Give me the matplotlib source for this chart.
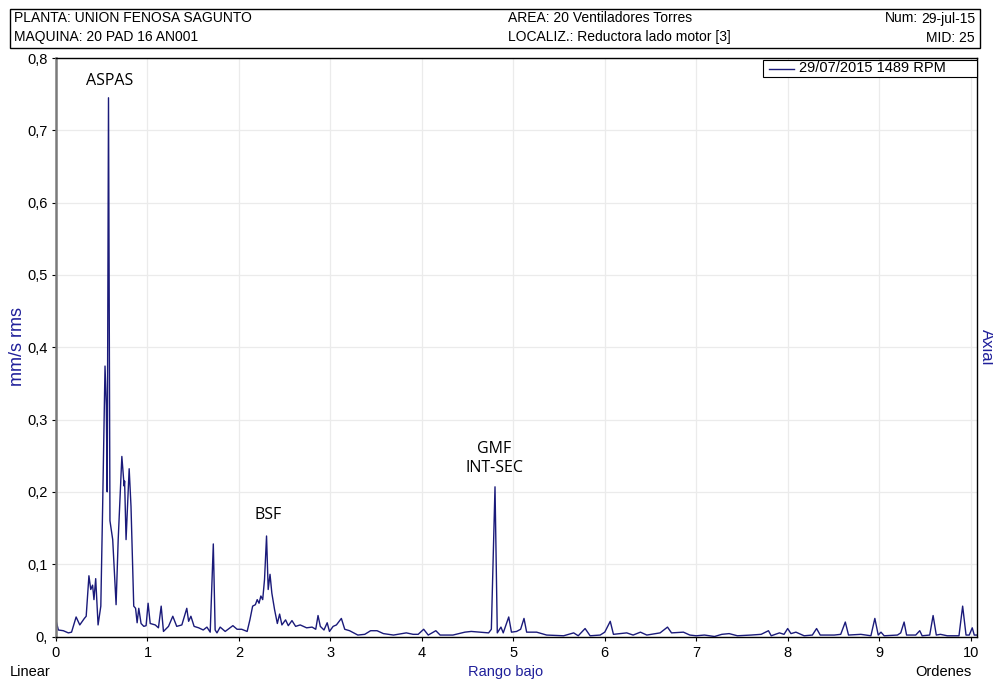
import matplotlib
matplotlib.use("Agg")
import matplotlib.pyplot as plt
from matplotlib.patches import Rectangle
from matplotlib.lines import Line2D
from matplotlib.ticker import FuncFormatter

plt.rcParams['font.family'] = ['Liberation Sans', 'DejaVu Sans']

# espectro (ordenes, mm/s rms)
ordenes = [0.0, 0.026, 0.08, 0.135, 0.17, 0.22, 0.26, 0.31, 0.33, 0.36, 0.38, 0.40, 0.415, 0.434,
           0.46, 0.49, 0.51, 0.536, 0.55, 0.56, 0.574, 0.59, 0.62, 0.657, 0.68, 0.72, 0.745, 0.75,
           0.766, 0.80, 0.82, 0.85, 0.87, 0.887, 0.905, 0.93, 0.96, 0.985, 1.007, 1.03, 1.085,
           1.12, 1.15, 1.175, 1.23, 1.277, 1.32, 1.376, 1.43, 1.45, 1.475, 1.51, 1.56, 1.61, 1.65,
           1.686, 1.72, 1.74, 1.76, 1.795, 1.85, 1.934, 1.98, 2.03, 2.09, 2.12, 2.15, 2.18, 2.2,
           2.22, 2.24, 2.26, 2.28, 2.302, 2.32, 2.34, 2.36, 2.39, 2.42, 2.445, 2.47, 2.51, 2.54,
           2.58, 2.62, 2.67, 2.74, 2.80, 2.84, 2.865, 2.89, 2.93, 2.965, 2.99, 3.03, 3.066, 3.12,
           3.157, 3.21, 3.30, 3.376, 3.44, 3.51, 3.58, 3.69, 3.83, 3.905, 3.96, 4.02, 4.07, 4.153,
           4.20, 4.34, 4.47, 4.54, 4.635, 4.73, 4.76, 4.80, 4.825, 4.865, 4.89, 4.95, 4.98, 5.036,
           5.08, 5.117, 5.146, 5.255, 5.365, 5.55, 5.66, 5.71, 5.785, 5.84, 5.95, 6.0, 6.06, 6.095,
           6.24, 6.31, 6.39, 6.46, 6.605, 6.686, 6.73, 6.86, 6.93, 7.0, 7.09, 7.2, 7.28, 7.36,
           7.45, 7.6, 7.71, 7.79, 7.82, 7.91, 7.96, 8.0, 8.036, 8.09, 8.18, 8.27, 8.316, 8.356,
           8.51, 8.58, 8.63, 8.665, 8.8, 8.91, 8.953, 8.99, 9.02, 9.055, 9.2, 9.236, 9.273, 9.30,
           9.4, 9.444, 9.47, 9.553, 9.59, 9.625, 9.67, 9.745, 9.873, 9.913, 9.95, 9.985, 10.018,
           10.04, 10.065]
amplitud = [0.022, 0.009, 0.008, 0.005, 0.006, 0.027, 0.016, 0.025, 0.028, 0.084, 0.065, 0.071, 0.051,
            0.080, 0.016, 0.042, 0.18, 0.374, 0.32, 0.20, 0.745, 0.16, 0.134, 0.044, 0.134, 0.249,
            0.208, 0.215, 0.134, 0.232, 0.18, 0.042, 0.039, 0.019, 0.039, 0.018, 0.014, 0.015,
            0.046, 0.018, 0.016, 0.012, 0.042, 0.007, 0.014, 0.028, 0.014, 0.016, 0.039, 0.021,
            0.028, 0.014, 0.012, 0.009, 0.013, 0.006, 0.128, 0.009, 0.005, 0.013, 0.007, 0.015,
            0.010, 0.010, 0.007, 0.023, 0.042, 0.044, 0.051, 0.046, 0.056, 0.051, 0.079, 0.139,
            0.065, 0.086, 0.060, 0.037, 0.018, 0.031, 0.016, 0.023, 0.015, 0.022, 0.014, 0.016,
            0.012, 0.013, 0.010, 0.029, 0.014, 0.009, 0.019, 0.007, 0.014, 0.016, 0.025, 0.010,
            0.008, 0.002, 0.003, 0.008, 0.008, 0.004, 0.002, 0.005, 0.003, 0.003, 0.010, 0.002,
            0.008, 0.002, 0.002, 0.006, 0.007, 0.006, 0.005, 0.010, 0.207, 0.005, 0.013, 0.005,
            0.027, 0.006, 0.007, 0.010, 0.025, 0.006, 0.006, 0.002, 0.001, 0.005, 0.001, 0.011,
            0.001, 0.002, 0.006, 0.021, 0.003, 0.005, 0.002, 0.006, 0.002, 0.005, 0.013, 0.005,
            0.006, 0.002, 0.001, 0.002, 0.0, 0.003, 0.004, 0.001, 0.002, 0.003, 0.008, 0.001,
            0.005, 0.003, 0.011, 0.004, 0.006, 0.001, 0.002, 0.011, 0.002, 0.002, 0.003, 0.020,
            0.002, 0.003, 0.001, 0.025, 0.002, 0.006, 0.001, 0.002, 0.005, 0.020, 0.002, 0.002,
            0.008, 0.001, 0.002, 0.029, 0.002, 0.003, 0.001, 0.001, 0.042, 0.002, 0.002, 0.012,
            0.002, 0.002]

x_ticks = [0, 1, 2, 3, 4, 5, 6, 7, 8, 9, 10]
y_ticks = [0.0, 0.1, 0.2, 0.3, 0.4, 0.5, 0.6, 0.7, 0.8]

azul = '#1f1f9a'
linea = '#1a1a7a'
W, H = 993, 679

fig = plt.figure(figsize=(W / 100, H / 100), dpi=100)
ax = fig.add_axes([56 / W, (H - 636.5) / H, (977 - 56) / W, (636.5 - 58) / H])

ax.plot(ordenes, amplitud, color=linea, lw=1.0)
ax.set_xlim(0, 10.07)
ax.set_ylim(0, 0.8)
ax.set_xticks(x_ticks)
ax.set_yticks(y_ticks)
ax.grid(True, color='#ebebeb', lw=0.9)
ax.set_axisbelow(True)


def coma(v, pos):
    if v == 0:
        return '0,'
    return ('%.1f' % v).replace('.', ',')


ax.yaxis.set_major_formatter(FuncFormatter(coma))
ax.tick_params(axis='both', labelsize=10.5, length=3, width=0.8, colors='black')
ax.tick_params(axis='y', pad=3)
ax.tick_params(axis='x', pad=4)
for s in ['top', 'right', 'bottom']:
    ax.spines[s].set_color('black')
    ax.spines[s].set_linewidth(1.0)
ax.spines['left'].set_color('#7a7a7a')
ax.spines['left'].set_linewidth(1.8)

# leyenda (caja a mano, como en el original)
fig.patches.append(Rectangle((763 / W, 1 - 77 / H), 214 / W, 17 / H, transform=fig.transFigure,
                             facecolor='white', edgecolor='black', lw=0.8, zorder=5))
fig.add_artist(Line2D([769 / W, 794 / W], [1 - 68.5 / H, 1 - 68.5 / H], color=linea, lw=1.0, zorder=6))
fig.text(799 / W, 1 - 68.5 / H, '29/07/2015 1489 RPM', fontsize=10.5, va='center', zorder=6)

# notas de los picos
ax.text(0.59, 0.757, 'ASPAS', fontsize=11.5, family=['Open Sans', 'DejaVu Sans'], ha='center', va='bottom')
ax.text(2.32, 0.157, 'BSF', fontsize=11.5, family=['Open Sans', 'DejaVu Sans'], ha='center', va='bottom')
ax.text(4.79, 0.248, 'GMF', fontsize=11.5, family=['Open Sans', 'DejaVu Sans'], ha='center', va='bottom')
ax.text(4.79, 0.222, 'INT-SEC', fontsize=11.5, family=['Open Sans', 'DejaVu Sans'], ha='center', va='bottom')

# cabecera
fig.patches.append(Rectangle((10 / W, 1 - 48 / H), 970 / W, 39 / H, transform=fig.transFigure,
                             fill=False, edgecolor='black', lw=1.0))
r1 = 1 - 18.5 / H
r2 = 1 - 37.5 / H
fig.text(14 / W, r1, 'PLANTA: UNION FENOSA SAGUNTO', fontsize=10, va='center')
fig.text(14 / W, r2, 'MAQUINA: 20 PAD 16 AN001', fontsize=10, va='center')
fig.text(508 / W, r1, 'AREA: 20 Ventiladores Torres', fontsize=10, va='center')
fig.text(508 / W, r2, 'LOCALIZ.: Reductora lado motor [3]', fontsize=10, va='center')
fig.text(918 / W, r1, 'Num:', fontsize=10, va='center', ha='right')
fig.text(975 / W, r1, '29-jul-15', fontsize=10, va='center', ha='right')
fig.text(975 / W, r2, 'MID: 25', fontsize=10, va='center', ha='right')

# rotulos de ejes
fig.text(18 / W, 1 - 347 / H, 'mm/s rms', fontsize=13, color=azul, rotation=90, ha='center', va='center')
fig.text(986 / W, 1 - 347 / H, 'Axial', fontsize=12, color=azul, rotation=270, ha='center', va='center')
fig.text(10 / W, 1 - 672 / H, 'Linear', fontsize=10.5, va='center')
fig.text(506 / W, 1 - 672 / H, 'Rango bajo', fontsize=10.5, color=azul, ha='center', va='center')
fig.text(943 / W, 1 - 672 / H, 'Ordenes', fontsize=10.5, ha='center', va='center')

fig.savefig('out.png', dpi=100)
